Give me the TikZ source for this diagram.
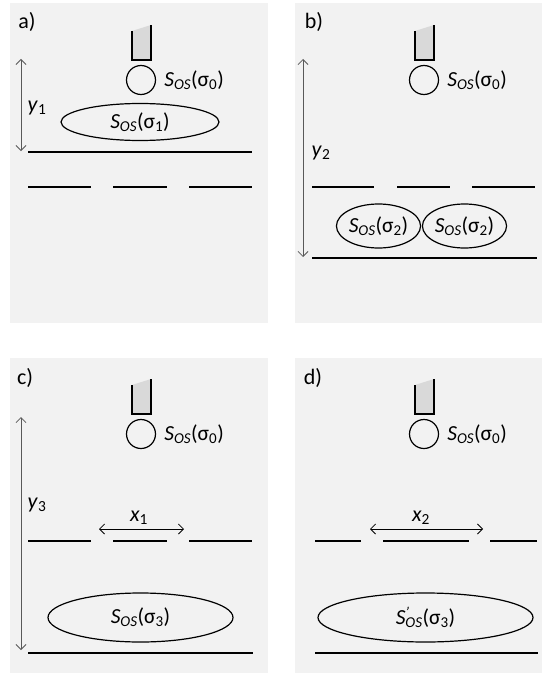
\documentclass[tikz,border=0pt]{standalone}
\usepackage{fontspec}
\setmainfont{Carlito}
\usepackage{tikz}
\usetikzlibrary{
  arrows.meta,
  shapes.geometric,
  positioning
}
\definecolor{pnBack}{HTML}{F2F2F2}
\definecolor{pnTip}{HTML}{D9D9D9}
\definecolor{pnDim}{HTML}{595959}
\tikzset{
  panel/.style={fill=pnBack},
  tipbody/.style={fill=pnTip},
  tipwall/.style={draw=black, line width=2.4pt},
  sphere/.style={draw, circle, line width=1.2pt, minimum size=29pt, inner sep=0pt},
  cloud/.style={draw, ellipse, line width=1.2pt, inner sep=0pt},
  layer/.style={line width=2.7pt},
  dimarrow/.style={{Straight Barb[length=5pt,width=10pt]}-{Straight Barb[length=5pt,width=10pt]}, line width=0.8pt, pnDim},
  gaparrow/.style={dimarrow, black},
  lbl/.style={inner sep=0pt, anchor=west},
  tag/.style={inner sep=0pt, font=\fontsize{22}{26}\selectfont}
}

\begin{document}
\begin{tikzpicture}[x=1pt, y=-1pt, font=\fontsize{21.5}{26}\selectfont]
  \useasboundingbox (0,0) rectangle (542,674);
  % four panels
  \fill[panel] (10,3) rectangle (268,323);
  \fill[panel] (295,3) rectangle (542,323);
  \fill[panel] (10,358) rectangle (268,673);
  \fill[panel] (295,358) rectangle (542,673);
  \node[tag] (ta) at (27,22) {a)};
  \node[tag] (tb) at (314,22) {b)};
  \node[tag] (tc) at (25,378) {c)};
  \node[tag] (td) at (313,378) {d)};

  % tip and sphere, same in every panel
  \foreach \n/\cx/\cy in {a/141/80, b/424/80, c/141/434, d/424/434} {
    \fill[tipbody] (\cx-9,\cy-49) -- (\cx+10,\cy-55) -- (\cx+10,\cy-20) -- (\cx-9,\cy-20) -- cycle;
    \draw[tipwall] (\cx-9,\cy-49) -- (\cx-9,\cy-20) -- (\cx+10,\cy-20) -- (\cx+10,\cy-55);
    \node[sphere] (s\n) at (\cx,\cy) {};
    \node[lbl, right=8pt of s\n] (l\n) {\textit{S}\textsubscript{\textit{OS}}(σ\textsubscript{0})};
  }

  % a)
  \draw[layer] (28,152) -- (252,152);
  \foreach \xa/\xb in {28/91, 113/167, 189/252}
    \draw[layer] (\xa,187) -- (\xb,187);
  \node[cloud, minimum width=158pt, minimum height=37pt] (ea) at (140,122) {\textit{S}\textsubscript{\textit{OS}}(σ\textsubscript{1})};
  \coordinate (ya1) at (21,59);
  \coordinate (ya2) at (21,151);
  \draw[dimarrow] (ya1) -- (ya2);
  \node[tag] (ya) at (37,108) {\textit{y}\textsubscript{1}};

  % b)
  \draw[layer] (312,258) -- (537,258);
  \foreach \xa/\xb in {312/374, 397/450, 472/535}
    \draw[layer] (\xa,187) -- (\xb,187);
  \node[cloud, minimum width=79pt, minimum height=44pt] (eb1) at (378.5,226) {\textit{S}\textsubscript{\textit{OS}}(σ\textsubscript{2})};
  \node[cloud, minimum width=79pt, minimum height=44pt] (eb2) at (464.5,226) {\textit{S}\textsubscript{\textit{OS}}(σ\textsubscript{2})};
  \coordinate (yb1) at (303,59);
  \coordinate (yb2) at (303,257);
  \draw[dimarrow] (yb1) -- (yb2);
  \node[tag] (yb) at (321,153) {\textit{y}\textsubscript{2}};

  % c)
  \draw[layer] (28,653) -- (253,653);
  \foreach \xa/\xb in {28/91, 113/167, 189/252}
    \draw[layer] (\xa,541) -- (\xb,541);
  \node[cloud, minimum width=185pt, minimum height=49pt] (ec) at (140.5,617.5) {\textit{S}\textsubscript{\textit{OS}}(σ\textsubscript{3})};
  \coordinate (yc1) at (21,417);
  \coordinate (yc2) at (21,650);
  \draw[dimarrow] (yc1) -- (yc2);
  \node[tag] (yc) at (37,505) {\textit{y}\textsubscript{3}};
  \coordinate (xc1) at (99,529);
  \coordinate (xc2) at (184,529);
  \draw[gaparrow] (xc1) -- (xc2);
  \node[tag] (xc) at (139,518) {\textit{x}\textsubscript{1}};

  % d)
  \draw[layer] (315,653) -- (538,653);
  \foreach \xa/\xb in {315/361, 383/469, 490/537}
    \draw[layer] (\xa,541) -- (\xb,541);
  \node[cloud, minimum width=215pt, minimum height=49pt] (ed) at (425.5,617.5) {\textit{S}\rlap{\textsuperscript{\textit{’}}}\textsubscript{\textit{OS}}(σ\textsubscript{3})};
  \coordinate (xd1) at (370,529);
  \coordinate (xd2) at (483,529);
  \draw[gaparrow] (xd1) -- (xd2);
  \node[tag] (xd) at (421,518) {\textit{x}\textsubscript{2}};
\end{tikzpicture}
\end{document}
